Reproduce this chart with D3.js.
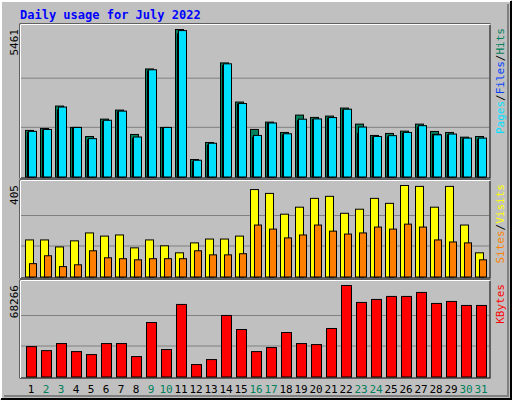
<!DOCTYPE html><html><head><script src="https://cdn.jsdelivr.net/npm/d3@7"></script>
<style>body{margin:0}svg{display:block}text{font-family:"DejaVu Sans Mono",monospace}</style></head><body><script>
const days=d3.range(1,32);
const weekend=[2,3,9,10,16,17,23,24,30,31];
const hits=[1724,1798,2626,1835,1500,2143,2477,1575,4000,1835,5461,646,1278,4224,2775,1761,2032,1649,2292,2206,2255,2552,1958,1538,1612,1698,1958,1686,1649,1475,1500];
const files=[1650,1740,2480,1835,1370,2060,2420,1420,3930,1800,5300,560,1180,4130,2700,1470,1980,1560,2080,2130,2180,2480,1620,1480,1480,1620,1840,1580,1560,1410,1390];
const pages=[1690,1760,2590,1835,1420,2100,2440,1480,3970,1835,5420,620,1250,4190,2720,1540,2000,1600,2140,2150,2200,2510,1850,1500,1530,1650,1900,1560,1590,1440,1440];
const visits=[164,164,133,160,195,181,186,129,164,138,107,151,168,168,181,387,370,278,309,348,357,282,300,348,326,405,401,309,401,230,107];
const sites=[59,94,46,54,116,85,81,76,81,81,81,116,98,98,103,230,212,173,186,230,203,190,195,221,212,234,221,164,155,151,76];
const kbytes=[22670,19660,24950,18960,16720,24950,24950,15230,40660,20470,54130,9270,13000,45920,35440,18960,21960,33190,24950,24200,36190,68266,55630,57870,60110,60110,63100,54880,56370,53380,53380];
const W=512,H=400;
const svg=d3.select("body").append("svg").attr("width",W).attr("height",H);
svg.append("rect").attr("width",W).attr("height",H).attr("fill","#c0c0c0");
svg.append("path").attr("d",`M1,${H-1}V1H${W-1}`).attr("stroke","#fff").attr("fill","none").attr("stroke-width",2);
svg.append("path").attr("d",`M1,${H-1}H${W-1}V1`).attr("stroke","#000").attr("fill","none").attr("stroke-width",2);
svg.append("path").attr("d",`M4,${H-4}H${W-4}V4`).attr("stroke","#808080").attr("fill","none").attr("stroke-width",2);
svg.append("text").attr("x",20).attr("y",19).text("Daily usage for July 2022").attr("fill","#0000ff").attr("font-weight","bold").attr("font-size",12);
const x=d3.scaleLinear().domain([1,2]).range([25,40]);
function panel(y0,y1,max,label,legend){
  svg.append("rect").attr("x",20).attr("y",y0).attr("width",470).attr("height",y1-y0).attr("fill","none").attr("stroke","#000");
  svg.append("path").attr("d",`M20.5,${y1}V${y0+.5}H490.5`).attr("stroke","#fff").attr("fill","none");
  const top=y0+5,bot=y1-1.5;
  const y=d3.scaleLinear().domain([0,max]).range([bot,top]);
  [1/3,2/3].forEach(f=>svg.append("line").attr("x1",21).attr("x2",489).attr("y1",y(max*f)).attr("y2",y(max*f)).attr("stroke","#808080"));
  svg.append("text").attr("transform",`translate(18,${top}) rotate(-90)`).attr("text-anchor","end").attr("font-size",11).text(label);
  const t=svg.append("text").attr("transform",`translate(504,${top-1}) rotate(-90)`).attr("text-anchor","end").attr("font-size",11);
  legend.forEach((l,i)=>{if(i)t.append("tspan").text("/").attr("fill","#000");t.append("tspan").text(l[0]).attr("fill",l[1]);});
  return y;
}
function bars(y,data,dx,w,color){
  svg.append("g").selectAll("rect").data(data).join("rect")
   .attr("x",(d,i)=>x(days[i])+dx+.5).attr("y",d=>y(d)+.5).attr("width",w).attr("height",d=>y(0)-y(d))
   .attr("fill",color).attr("stroke","#000");
}
const y1=panel(24,178,5461,"5461",[["Pages","#00e0ff"],["Files","#0040ff"],["Hits","#00805c"]]);
bars(y1,hits,0,8,"#00805c");bars(y1,files,2,8,"#0040ff");bars(y1,pages,3,8,"#00e0ff");
const y2=panel(180,278,405,"405",[["Sites","#ff8000"],["Visits","#ffff00"]]);
bars(y2,visits,0,8,"#ffff00");bars(y2,sites,4,7,"#ff8000");
const y3=panel(280,378,68266,"68266",[["KBytes","#ff0000"]]);
bars(y3,kbytes,1,10,"#ff0000");
svg.append("g").selectAll("text").data(days).join("text").attr("x",d=>x(d)+6).attr("y",393).attr("text-anchor","middle").attr("font-size",11)
 .attr("fill",d=>weekend.includes(d)?"#00805c":"#000").text(d=>d);
</script></body></html>
